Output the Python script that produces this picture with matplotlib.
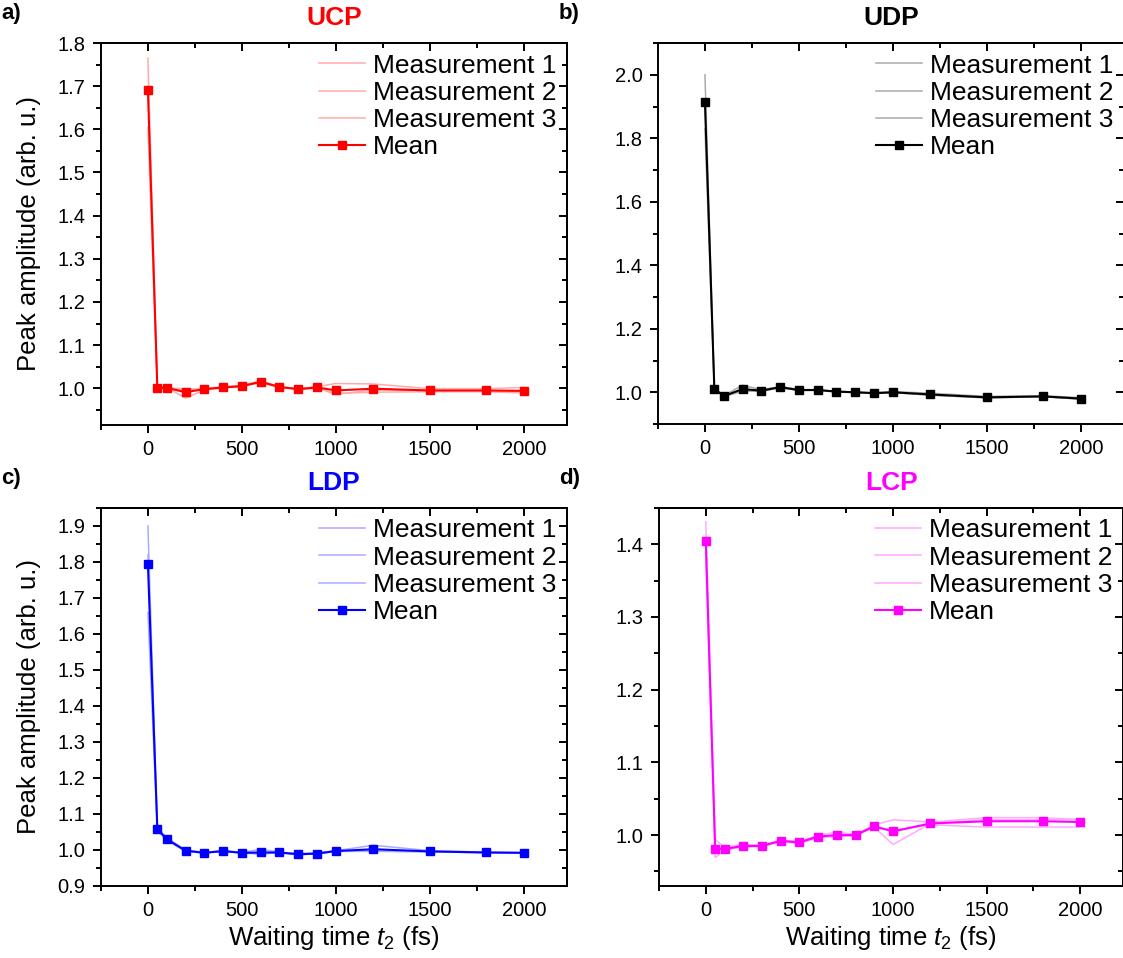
import matplotlib
matplotlib.use("Agg")
import matplotlib.pyplot as plt
from matplotlib.ticker import MultipleLocator

plt.rcParams['font.family'] = ['Liberation Sans', 'DejaVu Sans']
plt.rcParams['mathtext.fontset'] = 'custom'
plt.rcParams['mathtext.rm'] = 'Liberation Sans'
plt.rcParams['mathtext.it'] = 'Liberation Sans:italic'

######  data  ######

t2 = [0, 50, 100, 200, 300, 400, 500, 600, 700, 800, 900, 1000, 1200, 1500, 1800, 2000]

ucp_m1 = [1.765, 1.004, 1.001, 0.997, 1.000, 1.003, 1.007, 1.017, 1.004, 0.999, 1.004, 1.011, 1.010, 0.999, 0.999, 1.002]
ucp_m2 = [1.700, 0.999, 1.002, 0.977, 0.996, 1.001, 1.004, 1.015, 1.003, 0.997, 1.001, 0.986, 0.996, 0.994, 0.994, 0.991]
ucp_m3 = [1.605, 1.000, 1.000, 0.999, 0.998, 1.002, 1.004, 1.013, 1.002, 0.998, 1.001, 0.988, 0.991, 0.992, 0.992, 0.989]
ucp_mean = [1.690, 1.001, 1.001, 0.991, 0.998, 1.002, 1.005, 1.015, 1.003, 0.998, 1.002, 0.995, 0.999, 0.995, 0.995, 0.994]

udp_m1 = [2.000, 1.013, 0.990, 1.022, 1.008, 1.018, 1.009, 1.008, 1.003, 1.001, 0.999, 1.002, 0.997, 0.987, 0.989, 0.983]
udp_m2 = [1.915, 1.010, 0.986, 1.006, 1.002, 1.015, 1.006, 1.006, 1.001, 0.999, 0.996, 0.999, 0.991, 0.983, 0.986, 0.979]
udp_m3 = [1.830, 1.010, 0.988, 1.002, 1.005, 1.015, 1.006, 1.007, 1.002, 1.000, 0.996, 0.999, 0.991, 0.982, 0.986, 0.978]
udp_mean = [1.915, 1.011, 0.988, 1.010, 1.005, 1.016, 1.007, 1.007, 1.002, 1.000, 0.997, 1.000, 0.993, 0.984, 0.987, 0.980]

ldp_m1 = [1.900, 1.062, 1.034, 1.000, 0.993, 0.998, 0.993, 1.002, 0.994, 0.990, 0.992, 0.998, 1.013, 0.998, 0.994, 0.993]
ldp_m2 = [1.820, 1.055, 1.028, 0.997, 0.991, 0.997, 0.991, 0.990, 0.992, 0.987, 0.989, 0.997, 0.997, 0.995, 0.993, 0.991]
ldp_m3 = [1.660, 1.057, 1.027, 0.996, 0.992, 0.996, 0.992, 0.988, 0.993, 0.987, 0.989, 0.996, 0.996, 0.995, 0.992, 0.992]
ldp_mean = [1.794, 1.058, 1.030, 0.998, 0.992, 0.997, 0.992, 0.993, 0.993, 0.988, 0.990, 0.997, 1.002, 0.996, 0.993, 0.992]

lcp_m1 = [1.431, 0.994, 0.983, 0.987, 0.986, 0.993, 0.991, 1.000, 1.004, 1.001, 1.014, 1.021, 1.018, 1.024, 1.024, 1.021]
lcp_m2 = [1.405, 0.969, 0.979, 0.984, 0.984, 0.991, 0.988, 0.997, 0.998, 0.999, 1.011, 0.987, 1.016, 1.021, 1.021, 1.022]
lcp_m3 = [1.380, 0.980, 0.981, 0.984, 0.985, 0.992, 0.990, 0.997, 0.998, 1.000, 1.011, 1.007, 1.014, 1.011, 1.011, 1.011]
lcp_mean = [1.405, 0.981, 0.981, 0.985, 0.985, 0.992, 0.990, 0.998, 1.000, 1.000, 1.012, 1.005, 1.016, 1.019, 1.019, 1.018]

######  figure  ######

fig = plt.figure(figsize=(11.23, 9.58), dpi=100)

panels = [
    # label, title, colour, light colour, measurements, mean, rect, ylim, major, minor
    ("a)", "UCP", "#ff0000", "#ffaaaa", (ucp_m1, ucp_m2, ucp_m3), ucp_mean,
     [0.0899, 0.5564, 0.4150, 0.3987], (0.915, 1.8), 0.1, 0.05),
    ("b)", "UDP", "#000000", "#aaaaaa", (udp_m1, udp_m2, udp_m3), udp_mean,
     [0.5859, 0.5574, 0.4150, 0.3977], (0.9, 2.1), 0.2, 0.1),
    ("c)", "LDP", "#0000ff", "#aaaaff", (ldp_m1, ldp_m2, ldp_m3), ldp_mean,
     [0.0899, 0.0752, 0.4150, 0.3946], (0.9, 1.95), 0.1, 0.05),
    ("d)", "LCP", "#ff00ff", "#ffaaff", (lcp_m1, lcp_m2, lcp_m3), lcp_mean,
     [0.5868, 0.0752, 0.4135, 0.3946], (0.93, 1.45), 0.1, 0.05),
]

for i, (lab, title, col, light, meas, mean, rect, ylim, ymaj, ymin) in enumerate(panels):
    ax = fig.add_axes(rect)
    for k, m in enumerate(meas):
        ax.plot(t2, m, color=light, lw=1.1, label="Measurement %d" % (k + 1), zorder=2)
    ax.plot(t2, mean, color=col, lw=1.5, marker="s", ms=5.5, label="Mean", zorder=3)

    ax.set_xlim(-250, 2230)
    ax.set_ylim(*ylim)
    ax.xaxis.set_major_locator(MultipleLocator(500))
    ax.xaxis.set_minor_locator(MultipleLocator(250))
    ax.yaxis.set_major_locator(MultipleLocator(ymaj))
    ax.yaxis.set_minor_locator(MultipleLocator(ymin))
    ax.tick_params(which="major", direction="out", length=6, width=1.4, labelsize=14.5, pad=5)
    ax.tick_params(which="minor", direction="out", length=3.5, width=1.4)
    for s in ax.spines.values():
        s.set_linewidth(1.4)

    # inward ticks on top and right, like the original
    top = ax.secondary_xaxis("top")
    top.xaxis.set_major_locator(MultipleLocator(500))
    top.xaxis.set_minor_locator(MultipleLocator(250))
    top.tick_params(which="major", direction="in", length=6, width=1.4, labeltop=False)
    top.tick_params(which="minor", direction="in", length=3.5, width=1.4)
    top.spines["top"].set_linewidth(1.4)
    right = ax.secondary_yaxis("right")
    right.yaxis.set_major_locator(MultipleLocator(ymaj))
    right.yaxis.set_minor_locator(MultipleLocator(ymin))
    right.tick_params(which="major", direction="in", length=6, width=1.4, labelright=False)
    right.tick_params(which="minor", direction="in", length=3.5, width=1.4)
    right.spines["right"].set_linewidth(1.4)

    ax.set_title(title, color=col, fontsize=19, fontweight="bold", pad=13)
    if i % 2 == 0:
        ax.set_ylabel("Peak amplitude (arb. u.)", fontsize=18.5, labelpad=12)
    if i >= 2:
        ax.set_xlabel(r"Waiting time $\mathit{t}_2$ (fs)", fontsize=18.5, labelpad=3)

    ax.legend(loc="upper right", frameon=False, fontsize=19, handlelength=1.75,
              handletextpad=0.3, labelspacing=0.12, borderaxespad=0.2, borderpad=0.2,
              numpoints=1)

    fx = rect[0] - 0.0899
    fy = 0.997 if i < 2 else 0.512
    fig.text(fx + 0.001, fy, lab, fontsize=16, fontweight="bold", va="top", ha="left")

fig.savefig("out.png", dpi=100)
